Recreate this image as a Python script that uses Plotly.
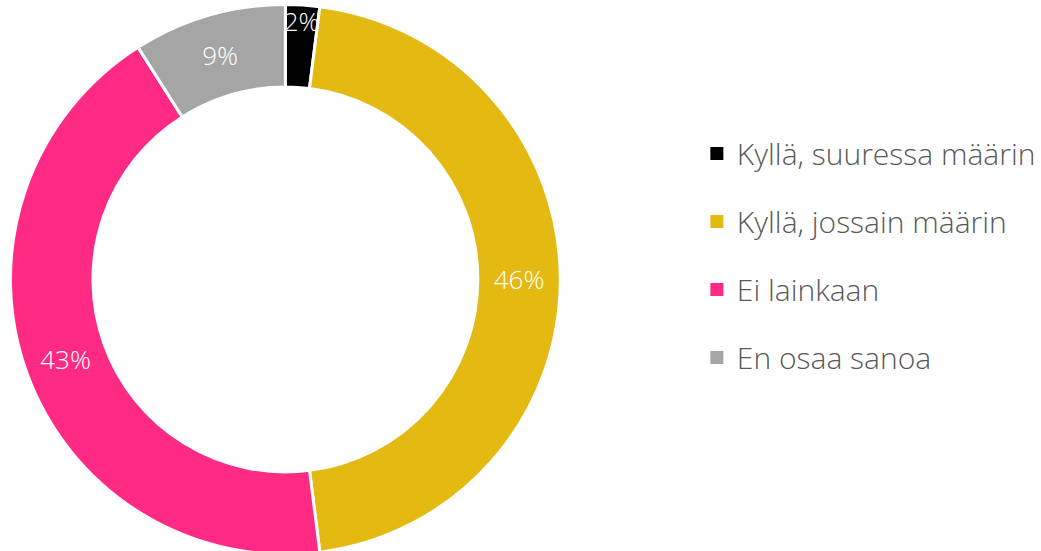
import plotly.graph_objects as go

labels = ["Kyllä, suuressa määrin", "Kyllä, jossain määrin", "Ei lainkaan", "En osaa sanoa"]
values = [2, 46, 43, 9]
colors = ["#000000", "#E3B912", "#FF2A84", "#A5A5A5"]

FONT = "Open Sans"

fig = go.Figure()
fig.add_trace(go.Pie(
    labels=labels, values=values, hole=0.70, sort=False, direction="clockwise",
    rotation=0, marker=dict(colors=colors, line=dict(color="white", width=3)),
    texttemplate="%{value}%", textposition="inside", insidetextorientation="horizontal",
    textfont=dict(color="white", size=26, family=FONT, weight=300),
    showlegend=False, hoverinfo="label+value",
    domain=dict(x=[0.0101, 0.5403], y=[0.008, 0.994]),
))
for lab, col in zip(labels, colors):
    fig.add_trace(go.Scatter(
        x=[None], y=[None], mode="markers", name=lab, legendgroup=lab,
        marker=dict(symbol="square", size=13, color=col),
    ))

fig.update_layout(
    width=1041, height=560,
    margin=dict(l=0, r=0, t=0, b=0),
    paper_bgcolor="white", plot_bgcolor="white",
    uniformtext=dict(minsize=26, mode="show"),
    xaxis=dict(visible=False), yaxis=dict(visible=False),
    legend=dict(
        x=0.672, y=0.5438, xanchor="left", yanchor="middle",
        font=dict(family=FONT, size=30, color="#595959", weight=300),
        tracegroupgap=26, itemwidth=30,
        bgcolor="rgba(0,0,0,0)",
    ),
)
fig.write_html("out.html", config={"displayModeBar": False},
               post_script="document.body.style.margin='0';")
